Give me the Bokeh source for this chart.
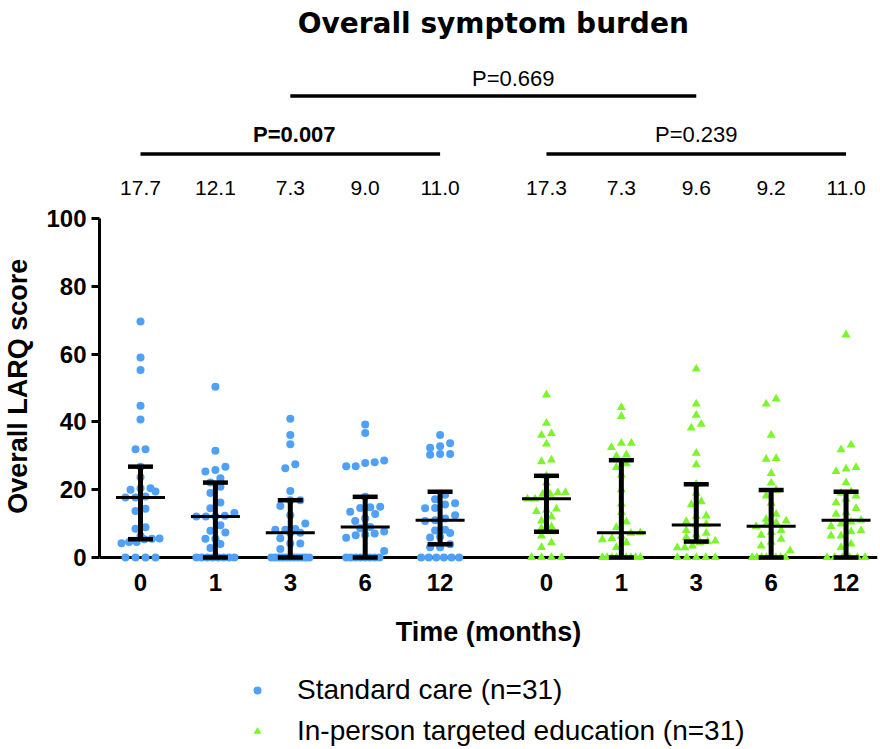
from bokeh.plotting import figure
from bokeh.models import Range1d, FixedTicker, Legend, LegendItem
from bokeh.core.properties import value
from bokeh.embed import file_html
from bokeh.resources import INLINE

# ---------------- data ----------------
months = ["0", "1", "3", "6", "12"]

standard_care = [
    [69.6, 59.0, 55.3, 44.8, 40.7, 31.9, 31.9, 26.8, 23.7, 20.4, 20.4, 20.0, 19.5, 18.0, 17.7, 17.7,
     14.4, 13.7, 8.9, 8.5, 6.4, 5.6, 5.5, 5.4, 4.6, 4.6, 4.2, 0, 0, 0, 0],
    [50.4, 31.5, 26.8, 25.8, 25.4, 23.4, 22.1, 20.9, 19.0, 16.2, 14.5, 13.1, 12.3, 12.2, 12.1, 12.1,
     9.5, 7.9, 7.4, 5.5, 5.5, 4.0, 2.8, 0, 0, 0, 0, 0, 0, 0, 0],
    [40.9, 36.1, 33.4, 27.5, 26.3, 19.6, 16.9, 16.9, 15.2, 12.5, 10.0, 8.4, 8.2, 8.2, 7.3, 7.3,
     5.7, 4.1, 4.1, 2.5, 0, 0, 0, 0, 0, 0, 0, 0, 0, 0, 0],
    [39.2, 36.7, 28.6, 28.1, 27.9, 26.9, 26.9, 17.9, 15.0, 14.8, 14.6, 13.5, 12.8, 11.5, 10.8, 9.0,
     8.6, 7.7, 7.1, 6.7, 6.6, 5.8, 1.9, 0, 0, 0, 0, 0, 0, 0, 0],
    [36.1, 33.7, 32.8, 32.4, 30.5, 30.5, 30.3, 18.5, 17.2, 16.0, 15.6, 14.6, 14.5, 12.5, 11.5, 11.0,
     10.8, 8.2, 8.0, 7.2, 6.1, 5.9, 3.9, 3.0, 3.0, 0, 0, 0, 0, 0, 0],
]
education = [
    [48.0, 39.6, 36.6, 36.1, 33.5, 28.8, 28.3, 24.1, 22.0, 19.9, 19.2, 19.1, 18.7, 18.7, 17.3, 17.3,
     14.3, 14.0, 13.6, 12.0, 10.8, 9.1, 8.6, 7.6, 6.4, 4.4, 3.0, 0, 0, 0, 0],
    [44.3, 41.6, 33.7, 33.7, 32.5, 30.3, 29.9, 27.7, 26.6, 24.4, 20.0, 15.8, 13.3, 10.5, 8.9, 7.3,
     7.2, 6.3, 5.6, 5.3, 4.4, 3.0, 0, 0, 0, 0, 0, 0, 0, 0, 0],
    [55.6, 45.3, 42.0, 39.3, 38.2, 30.8, 27.4, 21.6, 19.0, 16.5, 15.6, 12.3, 12.1, 10.6, 9.8, 9.6,
     8.0, 7.2, 6.7, 5.9, 4.9, 4.7, 4.4, 3.4, 2.9, 2.9, 0, 0, 0, 0, 0],
    [46.8, 45.3, 36.1, 29.2, 29.0, 24.8, 22.0, 19.9, 18.2, 16.0, 12.8, 11.3, 10.8, 10.3, 9.7, 9.2,
     8.0, 7.4, 6.6, 5.4, 4.5, 3.4, 2.0, 0, 0, 0, 0, 0, 0, 0, 0],
    [65.7, 33.2, 31.8, 26.6, 26.1, 25.4, 22.1, 19.4, 19.0, 18.2, 17.2, 16.2, 14.5, 13.2, 12.8, 11.0,
     10.5, 9.9, 9.2, 7.9, 7.6, 6.4, 6.4, 4.0, 3.0, 0, 0, 0, 0, 0, 0],
]

sc_median = [17.7, 12.1, 7.3, 9.0, 11.0]
sc_low = [5.4, 0.0, 0.0, 0.0, 3.9]
sc_high = [26.8, 22.1, 16.9, 17.9, 19.4]
ed_median = [17.3, 7.3, 9.6, 9.2, 11.0]
ed_low = [7.6, 0.0, 4.7, 0.0, 0.0]
ed_high = [24.1, 28.7, 21.6, 19.9, 19.4]

p_standard = "P=0.007"
p_education = "P=0.239"
p_between = "P=0.669"

title_text = "Overall symptom burden"
y_label = "Overall LARQ score"
x_label = "Time (months)"
legend_sc = "Standard care (n=31)"
legend_ed = "In-person targeted education (n=31)"
y_ticks = [0, 20, 40, 60, 80, 100]

# ---------------- layout ----------------
W, H = 880, 749
LEFT, RIGHT = 99, 3
frame_w = W - LEFT - RIGHT
ZERO_PX = 557                    # pixel row of y = 0

SPACING = 100.0                  # x-units between neighbouring columns
GROUP2 = 542.0                   # x position of the first education column
px_per_x = 74.9 / SPACING
px_per_y = 3.39
x0 = -(140 - LEFT) / px_per_x
x1 = x0 + frame_w / px_per_x
y0 = -(H - ZERO_PX) / px_per_y
y1 = ZERO_PX / px_per_y

sc_pos = [i * SPACING for i in range(5)]
ed_pos = [GROUP2 + i * SPACING for i in range(5)]

BLUE = "#4fa0f8"
GREEN = "#7cf52a"
FONT = "Liberation Sans"


def ypx(px):
    return (ZERO_PX - px) / px_per_y


def swarm(vals, center, step_px=10.0, max_half_px=19.0, row_px=7.0):
    order = sorted(range(len(vals)), key=lambda i: vals[i])
    rows = []
    for i in order:
        yp = vals[i] * px_per_y
        if rows and yp - rows[-1][0] < row_px:
            rows[-1][1].append(i)
        else:
            rows.append([yp, [i]])
    xs = [0.0] * len(vals)
    for _, idx in rows:
        n = len(idx)
        step = step_px if n <= 1 else min(step_px, 2 * max_half_px / (n - 1))
        for k, i in enumerate(idx):
            xs[i] = center + (k - (n - 1) / 2) * step / px_per_x
    return xs


p = figure(width=W, height=H, output_backend="svg", toolbar_location=None,
           x_range=Range1d(x0, x1), y_range=Range1d(y0, y1),
           min_border_left=LEFT, min_border_right=RIGHT,
           min_border_top=0, min_border_bottom=0)
p.outline_line_color = None
p.xgrid.visible = False
p.ygrid.visible = False
p.background_fill_color = "white"
p.border_fill_color = "white"

# points
sx, sy, ex, ey = [], [], [], []
for i in range(5):
    sx += swarm(standard_care[i], sc_pos[i])
    sy += standard_care[i]
    ex += swarm(education[i], ed_pos[i])
    ey += education[i]

r_sc = p.scatter(x=sx, y=sy, marker="circle", size=8, fill_color=BLUE,
                 line_color=None, level="overlay")
r_ed = p.scatter(x=ex, y=ey, marker="triangle", size=9, fill_color=GREEN,
                 line_color=None, level="overlay")

# error bars (median with range)
cap_half = 12.5 / px_per_x
med_half = 24.5 / px_per_x
for pos, med, lo, hi in ((sc_pos, sc_median, sc_low, sc_high),
                         (ed_pos, ed_median, ed_low, ed_high)):
    p.segment(x0=pos, y0=lo, x1=pos, y1=hi, line_color="black", line_width=5, level="overlay")
    p.segment(x0=[x - cap_half for x in pos], y0=lo, x1=[x + cap_half for x in pos], y1=lo,
              line_color="black", line_width=4.5, level="overlay")
    p.segment(x0=[x - cap_half for x in pos], y0=hi, x1=[x + cap_half for x in pos], y1=hi,
              line_color="black", line_width=4.5, level="overlay")
    p.segment(x0=[x - med_half for x in pos], y0=med, x1=[x + med_half for x in pos], y1=med,
              line_color="black", line_width=3, level="overlay")

# header: medians above each column
p.text(x=sc_pos + ed_pos, y=[ypx(187.5)] * 10,
       text=["%.1f" % v for v in sc_median + ed_median],
       text_font=value(FONT), text_font_size="21px", text_align="center",
       text_baseline="middle", text_color="black")

# brackets
p.segment(x0=[sc_pos[0], ed_pos[0], sc_pos[2]], y0=[ypx(153.5), ypx(153.5), ypx(95.5)],
          x1=[sc_pos[4], ed_pos[4], ed_pos[2]], y1=[ypx(153.5), ypx(153.5), ypx(95.5)],
          line_color="black", line_width=3.3)

p.text(x=[(sc_pos[0] + sc_pos[4]) / 2 + 4 / px_per_x], y=[ypx(134)], text=[p_standard],
       text_font=value(FONT), text_font_size="22px", text_font_style="bold",
       text_align="center", text_baseline="middle", text_color="black")
p.text(x=[(ed_pos[0] + ed_pos[4]) / 2], y=[ypx(134)], text=[p_education],
       text_font=value(FONT), text_font_size="22px",
       text_align="center", text_baseline="middle", text_color="black")
p.text(x=[(sc_pos[2] + ed_pos[2]) / 2 + 20 / px_per_x], y=[ypx(78)], text=[p_between],
       text_font=value(FONT), text_font_size="22px",
       text_align="center", text_baseline="middle", text_color="black")

# title
p.text(x=[(sc_pos[0] + ed_pos[4]) / 2], y=[ypx(23)], text=[title_text],
       text_font=value("DejaVu Sans"), text_font_size="28px", text_font_style="bold",
       text_align="center", text_baseline="middle", text_color="black")

# axes
ya = p.yaxis[0]
ya.bounds = (0, 100)
ya.ticker = FixedTicker(ticks=y_ticks)
ya.minor_tick_line_color = None
ya.major_tick_in = 0
ya.major_tick_out = 8
ya.major_tick_line_width = 3
ya.axis_line_width = 3
ya.major_label_standoff = 5
ya.major_label_text_font = FONT
ya.major_label_text_font_size = "24px"
ya.major_label_text_font_style = "bold"
ya.major_label_text_color = "black"
ya.axis_label = y_label + "\u00a0\u00a0\u00a0"
ya.axis_label_text_font = FONT
ya.axis_label_text_font_size = "27px"
ya.axis_label_text_font_style = "bold"
ya.axis_label_text_color = "black"
ya.axis_label_standoff = 10

xa = p.xaxis[0]
xa.fixed_location = 0
all_pos = sc_pos + ed_pos
xa.ticker = FixedTicker(ticks=all_pos)
xa.major_label_overrides = {int(x): m for x, m in zip(all_pos, months + months)}
xa.major_tick_line_color = None
xa.major_tick_in = 0
xa.major_tick_out = 0
xa.minor_tick_line_color = None
xa.axis_line_width = 3
xa.major_label_standoff = 16
xa.major_label_text_font = FONT
xa.major_label_text_font_size = "24px"
xa.major_label_text_font_style = "bold"
xa.major_label_text_color = "black"
xa.axis_label = x_label
xa.axis_label_text_font = FONT
xa.axis_label_text_font_size = "27px"
xa.axis_label_text_font_style = "bold"
xa.axis_label_text_color = "black"
xa.axis_label_standoff = 23

# legend below the axis
legend = Legend(items=[LegendItem(label=legend_sc, renderers=[r_sc]),
                       LegendItem(label=legend_ed, renderers=[r_ed])],
                location=(148, 1), orientation="vertical",
                glyph_width=20, glyph_height=34, label_height=34, label_standoff=30,
                spacing=7, padding=0, margin=0,
                border_line_color=None, background_fill_alpha=0,
                label_text_font=FONT, label_text_font_size="28px", label_text_color="black")
p.add_layout(legend)

open("out.html", "w").write(file_html(p, INLINE))
